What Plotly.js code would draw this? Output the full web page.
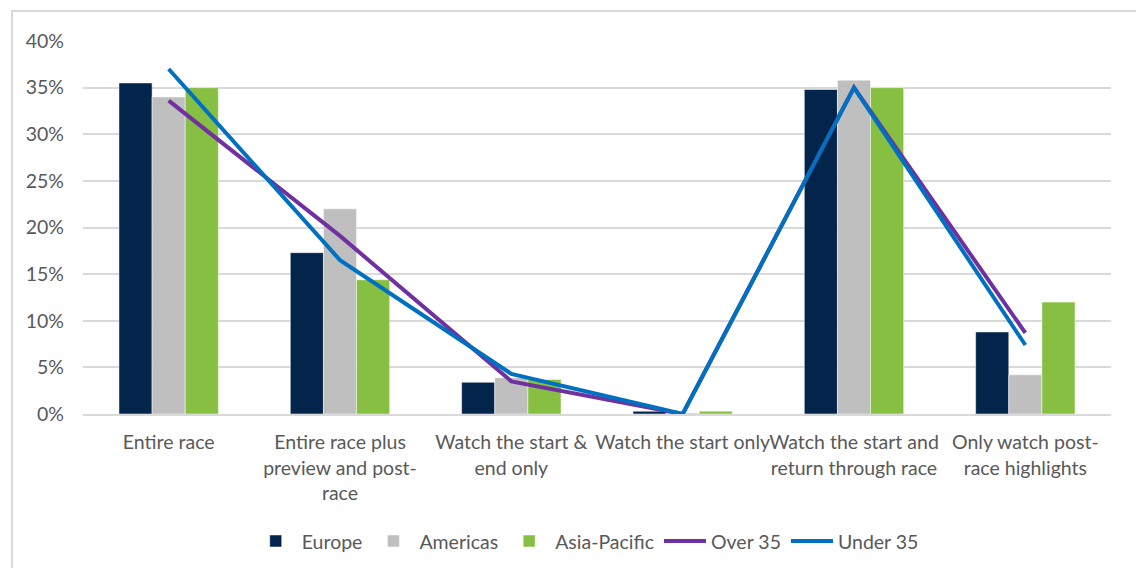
<!DOCTYPE html>
<html>
<head>
<meta charset="utf-8">
<script src="https://cdn.plot.ly/plotly-3.0.1.min.js"></script>
<style>html,body{margin:0;padding:0;background:#fff;}#chart{width:1136px;height:568px;}</style>
</head>
<body>
<div id="chart"></div>
<script>
const categories = [
  "Entire race",
  "Entire race plus<br>preview and post-<br>race",
  "Watch the start &<br>end only",
  "Watch the start only",
  "Watch the start and<br>return through race",
  "Only watch post-<br>race highlights"
];
const europe = [0.355, 0.173, 0.034, 0.003, 0.348, 0.088];
const americas = [0.340, 0.220, 0.039, 0.001, 0.358, 0.042];
const asiaPacific = [0.350, 0.144, 0.037, 0.003, 0.350, 0.120];
const over35 = [0.336, 0.191, 0.035, 0.0, 0.350, 0.087];
const under35 = [0.370, 0.165, 0.043, 0.0, 0.350, 0.074];
const yTicks = [0, 0.05, 0.10, 0.15, 0.20, 0.25, 0.30, 0.35, 0.40];

const font = "Lato, 'Open Sans', sans-serif";
const data = [
  {type:'bar', name:'Europe', x:categories, y:europe, marker:{color:'#03244b', line:{color:'#ffffff', width:0.5}}},
  {type:'bar', name:'Americas', x:categories, y:americas, marker:{color:'#bfbfbf', line:{color:'#ffffff', width:0.5}}},
  {type:'bar', name:'Asia-Pacific', x:categories, y:asiaPacific, marker:{color:'#86bf41', line:{color:'#ffffff', width:0.5}}},
  {type:'scatter', mode:'lines', name:'Over 35', x:categories, y:over35, line:{color:'#7030a0', width:4}},
  {type:'scatter', mode:'lines', name:'Under 35', x:categories, y:under35, line:{color:'#0070c0', width:4}}
];
const layout = {
  width:1136, height:568,
  margin:{l:83, r:25, t:41, b:154},
  paper_bgcolor:'#ffffff', plot_bgcolor:'#ffffff',
  font:{family:font, size:19.5, color:'#595959'},
  barmode:'group', bargap:0.42, bargroupgap:0,
  showlegend:true,
  legend:{orientation:'h', x:0.49, xanchor:'center', yref:'container', y:0.047, yanchor:'middle', font:{size:19.5, color:'#595959'}, traceorder:'normal', itemwidth:42},
  xaxis:{type:'category', showgrid:false, showline:true, linecolor:'#d9d9d9', linewidth:2, ticks:'', tickangle:0, ticklabelstandoff:10, tickfont:{size:19.5, color:'#595959'}, automargin:false},
  yaxis:{range:[0,0.40], tickvals:yTicks, tickformat:'.0%', showgrid:true, gridcolor:'#d9d9d9', gridwidth:2, zeroline:false, showline:false, ticks:'', ticklabelstandoff:18, tickfont:{size:19.5, color:'#595959'}, automargin:false},
  shapes:[{type:'rect', xref:'paper', yref:'paper', x0:-0.069, x1:1.2, y0:-0.6, y1:1.0804, line:{color:'#d9d9d9', width:2}, fillcolor:'rgba(0,0,0,0)', layer:'below'}]
};
Plotly.newPlot('chart', data, layout, {displayModeBar:false, staticPlot:true});
</script>
</body>
</html>
